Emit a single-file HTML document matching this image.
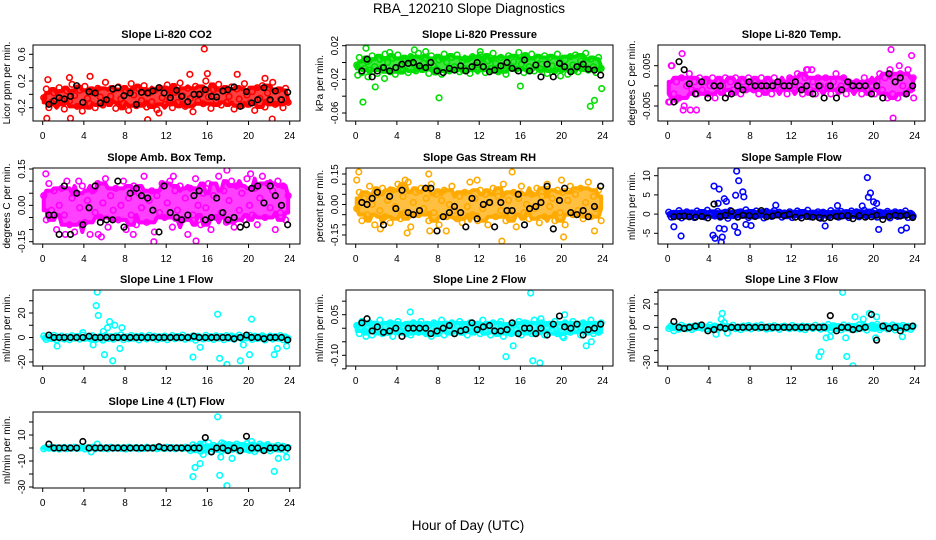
<!DOCTYPE html>
<html><head><meta charset="utf-8">
<style>
html,body{margin:0;padding:0;background:#fff;}
svg{display:block;font-family:"Liberation Sans",sans-serif;}
</style></head>
<body>
<svg id="chart" width="936" height="540" viewBox="0 0 936 540" xmlns="http://www.w3.org/2000/svg">
<rect width="936" height="540" fill="#fff"/>
<text x="469" y="13" font-size="13.5" text-anchor="middle">RBA_120210  Slope Diagnostics</text>
<text x="468" y="530" font-size="13.5" text-anchor="middle">Hour of Day (UTC)</text>
</svg>
<script>
// ---------- shared hours ----------
const cloudHours = [0.1,0.35,0.6,0.85,1.1,1.35,1.6,1.85,2.1,2.35,2.6,2.85,3.1,3.35,3.6,3.85,4.1,4.35,4.6,4.85,5.1,5.35,5.6,5.85,
6.1,6.35,6.6,6.85,7.1,7.35,7.6,7.85,8.1,8.35,8.6,8.85,9.1,9.35,9.6,9.85,10.1,10.35,10.6,10.85,11.1,11.35,11.6,11.85,
12.1,12.35,12.6,12.85,13.1,13.35,13.6,13.85,14.1,14.35,14.6,14.85,15.1,15.35,15.6,15.85,16.1,16.35,16.6,16.85,17.1,17.35,17.6,17.85,
18.1,18.35,18.6,18.85,19.1,19.35,19.6,19.85,20.1,20.35,20.6,20.85,21.1,21.35,21.6,21.85,22.1,22.35,22.6,22.85,23.1,23.35,23.6,23.85];
const blackHours = [0.6,1.1,1.6,2.1,2.7,3.3,3.9,4.5,5.1,5.6,6.2,6.8,7.3,7.9,8.5,9.1,9.6,10.2,10.7,11.3,11.8,12.4,13.0,13.5,14.1,14.7,15.2,15.8,16.4,16.9,17.5,18.0,18.6,19.2,19.8,20.3,20.9,21.5,22.1,22.6,23.2,23.8];
const xTicks = [0,4,8,12,16,20,24];

// ---------- CO2 ----------
const co2Cloud = [-0.05,0.08,-0.2,-0.12,0.02,-0.15,0.1,-0.08,-0.22,0.05,-0.1,0.15,-0.02,-0.18,0.06,-0.25,0.12,-0.06,-0.14,0.03,-0.2,0.09,-0.04,-0.16,
0.18,-0.1,-0.03,0.07,-0.21,0.11,-0.07,-0.13,0.04,-0.24,0.16,-0.01,-0.17,0.08,-0.09,0.13,-0.19,0.02,-0.11,0.06,-0.23,0.1,-0.05,-0.15,
0.14,-0.08,-0.2,0.03,-0.12,0.17,-0.02,-0.18,0.09,-0.06,-0.26,0.12,-0.1,0.01,-0.14,0.2,-0.04,-0.21,0.07,-0.09,0.15,-0.16,0.05,-0.12,
-0.03,0.11,-0.22,0.08,-0.07,-0.17,0.16,-0.01,-0.13,0.04,-0.24,0.1,-0.06,0.13,-0.19,0.02,-0.1,0.18,-0.15,0.06,-0.08,-0.2,0.09,-0.12];
const co2Black = [-0.15,-0.1,-0.05,-0.07,-0.03,0.13,-0.12,0.04,0.02,-0.13,-0.08,0.08,0.1,-0.02,0.02,-0.15,0.03,0.02,0.05,0.1,0.02,-0.05,0.06,-0.03,-0.11,0.0,0.0,0.07,-0.03,-0.04,0.05,0.07,0.11,-0.18,0.04,-0.13,-0.08,0.1,-0.08,0.05,-0.08,0.03];
const co2OutH = [15.7,14.3,18.9,10.2,2.7,0.4,22.3,4.6,11.3,2.6,16.0,21.6,0.5];
const co2OutV = [0.68,0.3,0.3,-0.38,-0.36,-0.36,-0.37,0.27,-0.28,0.25,0.31,0.24,0.22];
const co2Ticks = [-0.2,0,0.2,0.4,0.6];
const co2Labels = ["-0.2","","0.2","","0.6"];

// ---------- Pressure ----------
const presCloud = [-0.003,0.006,-0.012,-0.007,0.001,-0.009,0.008,-0.005,-0.013,0.004,-0.006,0.01,0.0,-0.011,0.005,-0.014,0.009,-0.004,-0.008,0.002,-0.012,0.007,-0.002,-0.01,
0.011,-0.006,-0.001,0.005,-0.013,0.008,-0.004,-0.008,0.003,-0.014,0.01,0.0,-0.01,0.006,-0.005,0.009,-0.011,0.002,-0.007,0.004,-0.013,0.007,-0.003,-0.009,
0.009,-0.005,-0.012,0.002,-0.007,0.011,-0.001,-0.011,0.006,-0.004,-0.014,0.008,-0.006,0.001,-0.008,0.012,-0.002,-0.012,0.005,-0.005,0.01,-0.01,0.004,-0.007,
-0.002,0.008,-0.013,0.006,-0.004,-0.01,0.01,0.0,-0.008,0.003,-0.014,0.007,-0.003,0.009,-0.011,0.002,-0.006,0.011,-0.009,0.004,-0.005,-0.012,0.006,-0.007];
const presBlack = [-0.01,0.004,-0.017,-0.01,-0.006,-0.01,-0.006,-0.002,-0.001,0.0,-0.004,-0.006,0.0,-0.01,-0.012,-0.007,-0.009,-0.004,-0.01,-0.005,0.0,-0.005,-0.011,-0.009,-0.004,0.0,-0.007,-0.01,0.003,-0.01,-0.003,-0.017,-0.002,-0.017,-0.001,-0.005,-0.011,-0.005,-0.002,-0.008,-0.009,-0.015];
const presOutH = [0.2,0.7,1.2,1.4,1.9,2.8,8.1,16.0,22.8,23.2,23.9,1.0,5.7,3.3,12.1,6.8,19.9];
const presOutV = [-0.015,-0.047,-0.017,-0.075,-0.029,-0.019,-0.042,-0.028,-0.052,-0.045,-0.031,0.017,0.015,0.012,0.013,0.013,-0.016];
const presTicks = [-0.06,-0.04,-0.02,0,0.02];
const presLabels = ["-0.06","","-0.02","","0.02"];

// ---------- Li-820 Temp ----------
const tempCloud = [-0.004,0.005,-0.002,0.001,-0.003,0.002,-0.005,0.0,0.003,-0.001,0.001,-0.002,
0.002,-0.001,0.001,-0.002,0.0,0.002,-0.003,0.001,-0.001,0.0,0.002,-0.002,
0.001,-0.001,0.002,0.0,-0.002,0.001,-0.001,0.002,0.0,-0.001,0.001,-0.002,
0.002,0.0,-0.001,0.001,-0.002,0.002,0.0,-0.001,0.001,0.0,-0.002,0.002,
0.001,-0.001,0.003,0.0,-0.002,0.002,0.004,-0.001,0.001,-0.002,0.002,0.0,
-0.001,0.002,0.0,-0.002,0.001,0.003,-0.001,0.0,0.002,-0.002,0.001,0.0,
-0.001,0.001,0.0,-0.002,0.002,-0.001,0.001,0.0,-0.002,0.001,0.003,-0.001,
0.002,-0.003,0.004,-0.002,0.001,-0.003,0.003,0.0,-0.002,0.004,-0.001,0.002];
const tempBlack = [-0.004,0.006,0.004,0.0005,-0.002,0.001,-0.003,0.0,0.0,-0.003,-0.002,0.0,-0.001,0.001,0.0,0.0,0.0,0.0,0.001,0.0,0.0,0.001,-0.001,0.0,-0.002,0.0,-0.003,0.0,-0.003,-0.001,0.001,0.0,0.0,0.0,-0.002,0.0,-0.003,0.003,0.001,0.002,-0.002,0.0];
const tempOutH = [0.4,1.4,1.5,2.2,2.8,21.7,21.9,21.8,23.7,22.5,23.9,0.2,13.5,14.0];
const tempOutV = [0.005,0.008,-0.006,-0.006,-0.006,0.009,-0.008,0.011,0.0075,0.005,-0.003,-0.004,0.004,0.004];
const tempTicks = [-0.005,0,0.005];
const tempLabels = ["-0.005","","0.005"];

// ---------- Amb Box Temp ----------
const ambCloud = [0.04,-0.06,0.09,-0.02,0.06,-0.1,0.0,0.07,-0.04,0.1,-0.08,0.03,-0.11,0.05,-0.01,0.08,-0.07,0.02,-0.12,0.06,-0.03,0.09,-0.05,0.01,
0.11,-0.09,0.04,-0.02,0.07,-0.06,0.0,0.1,-0.1,0.03,-0.04,0.08,-0.08,0.05,-0.01,0.12,-0.07,0.02,0.06,-0.11,0.04,-0.03,0.09,-0.05,
0.01,0.1,-0.09,0.06,-0.02,0.08,-0.06,0.03,-0.12,0.07,-0.04,0.11,0.0,-0.08,0.05,-0.01,0.09,-0.1,0.04,-0.05,0.12,-0.03,0.06,-0.07,
0.02,0.1,-0.09,0.08,-0.02,0.05,-0.06,0.11,0.0,-0.04,0.07,-0.08,0.03,0.12,-0.05,0.09,-0.01,0.06,-0.1,0.1,-0.03,0.08,-0.06,0.04];
const ambBlack = [-0.04,-0.04,-0.12,0.08,-0.12,0.05,-0.08,-0.01,0.08,-0.07,-0.06,-0.06,0.1,-0.09,0.05,0.07,0.04,0.03,-0.02,-0.11,0.08,-0.03,-0.05,-0.06,-0.04,0.04,0.06,-0.06,-0.05,0.03,-0.03,-0.06,-0.05,-0.09,-0.08,0.07,0.08,0.01,0.08,0.04,0.0,-0.08];
const ambOutH = [0.3,10.8,14.9,17.9,20.2,5.4,5.7,8.8,2.2,12.7,3.5];
const ambOutV = [0.13,-0.15,-0.147,0.145,0.13,-0.12,-0.13,-0.12,-0.12,0.12,0.1];
const ambTicks = [-0.15,-0.1,-0.05,0,0.05,0.1,0.15];
const ambLabels = ["-0.15","","","0.00","","","0.15"];

// ---------- Gas Stream RH ----------
const rhCloud = [-0.02,0.06,-0.08,0.03,-0.05,0.09,0.0,-0.1,0.05,-0.03,0.08,-0.06,0.02,-0.09,0.07,-0.01,0.1,-0.07,0.04,-0.04,0.11,-0.11,0.01,0.06,
-0.05,0.08,-0.02,0.03,-0.08,0.1,-0.04,0.05,-0.1,0.02,0.07,-0.06,0.0,0.09,-0.03,-0.07,0.04,-0.09,0.06,-0.01,0.11,-0.05,0.03,-0.08,
0.07,-0.02,0.05,-0.1,0.01,0.08,-0.06,0.04,-0.03,0.1,-0.08,0.02,-0.05,0.06,-0.11,0.03,0.09,-0.04,0.0,-0.07,0.05,-0.02,0.08,-0.09,
0.04,-0.06,0.1,-0.01,0.03,-0.08,0.07,-0.04,0.06,-0.1,0.02,0.09,-0.05,0.05,-0.03,0.08,-0.07,0.01,0.11,-0.06,0.04,-0.02,0.07,-0.08];
const rhBlack = [0.01,0.0,0.03,0.06,-0.1,0.04,-0.02,0.07,-0.04,-0.05,-0.03,0.08,0.08,-0.13,-0.06,-0.04,-0.01,-0.04,-0.11,0.03,-0.07,0.0,0.01,-0.11,0.01,-0.03,-0.03,0.05,-0.1,-0.02,-0.01,0.01,0.09,-0.12,0.02,0.08,-0.04,-0.05,-0.03,-0.06,-0.01,0.09];
const rhOutH = [0.3,0.1,15.2,14.2,7.2,20.2,23.2,2.4,5.0,7.1,20.0,8.8,4.8,11.8];
const rhOutV = [0.16,0.12,0.16,-0.18,-0.13,-0.16,-0.13,-0.12,-0.14,0.15,0.12,-0.13,0.12,0.12];
const rhTicks = [-0.15,-0.1,-0.05,0,0.05,0.1,0.15];
const rhLabels = ["-0.15","","","0.00","","","0.15"];

// ---------- Sample Flow ----------
const sampCloud = [0.5,-0.8,0.2,-0.4,0.9,-1.0,0.1,0.6,-0.6,0.3,-0.9,0.8,-0.2,0.4,-0.7,1.0,-0.3,0.2,-0.5,0.7,-0.8,0.0,0.5,-1.1,
0.9,-0.4,0.3,-0.7,0.6,-0.1,1.1,-0.9,0.2,-0.5,0.8,-0.3,0.4,-1.0,0.7,0.0,-0.6,0.9,-0.2,0.5,-0.8,0.3,-0.4,0.6,
-0.9,0.1,0.8,-0.5,0.4,-0.2,1.0,-0.7,0.2,-0.3,0.6,-1.1,0.5,0.0,-0.6,0.9,-0.4,0.3,-0.8,0.7,-0.1,0.4,-0.9,0.8,
-0.3,0.6,-0.7,0.2,1.0,-0.5,0.1,-0.2,0.9,-0.8,0.5,-0.4,0.3,0.7,-1.0,0.0,0.6,-0.6,0.4,-0.3,0.8,-0.9,0.2,-0.5];
const sampBlack = [-0.7,-0.6,-0.5,-0.7,-0.8,-0.6,-1.0,2.6,-0.6,-0.3,0.7,-0.8,-0.3,-0.4,-0.6,0.9,-0.7,-0.5,-0.2,-0.4,0.0,-0.8,-1.0,-0.6,-0.8,-0.9,-1.1,-0.9,-0.6,-0.5,-0.4,-1.2,-0.4,-0.8,-0.7,-0.3,-1.4,-0.6,-0.3,-0.5,-0.3,-0.9];
const sampOutH = [4.5,5.0,6.7,6.9,7.3,7.4,6.6,5.5,5.7,4.4,4.6,5.3,5.2,5.0,5.5,6.5,6.8,7.6,8.1,1.3,0.6,19.4,19.7,19.5,20.0,20.3,20.5,22.7,23.2,15.3,16.5,10.5,18.9,4.9];
const sampOutV = [7.3,6.5,11.2,8.7,5.8,4.5,4.9,4.0,3.3,-5.5,-6.3,-6.0,-7.3,-3.7,-3.9,-3.2,-4.8,-2.7,-3.0,-5.7,-3.3,9.5,5.5,4.4,3.2,2.8,-4.0,-4.2,-3.6,-3.1,2.2,2.3,2.1,2.8];
const sampTicks = [-5,0,5,10];
const sampLabels = ["-5","0","5","10"];

// ---------- Line 1 Flow ----------
const l1Cloud = [1.2,-1.6,0.4,-0.9,1.8,-2.0,0.3,1.1,-1.3,0.6,-1.8,1.5,-0.5,0.8,-1.4,2.0,-0.7,0.5,-1.0,1.4,-1.7,0.0,1.0,-2.2,
1.7,-0.8,0.6,-1.4,1.2,-0.3,2.2,-1.8,0.4,-1.0,1.6,-0.6,0.9,-2.0,1.4,0.1,-1.2,1.8,-0.4,1.0,-1.6,0.6,-0.8,1.2,
-1.8,0.2,1.6,-1.0,0.8,-0.4,2.0,-1.4,0.4,-0.6,1.2,-2.2,1.0,0.0,-1.2,1.8,-0.8,0.6,-1.6,1.4,-0.2,0.8,-1.8,1.6,
-0.6,1.2,-1.4,0.4,2.0,-1.0,0.2,-0.4,1.8,-1.6,1.0,-0.8,0.6,1.4,-2.0,0.0,1.2,-1.2,0.8,-0.6,1.6,-1.8,0.4,-1.0];
const l1Black = [2,0,0,0,0,0,0,1,0,0,0,0,0,0,0,0,0,0,0,0,0,0,0,0,0,1,0,0,0,0,0,0,-1,0,2,0,0,-1,0,0,0,-2];
const l1OutH = [5.3,5.2,5.4,6.0,6.8,7.5,6.5,7.0,7.7,1.4,14.6,15.3,17.0,17.2,17.9,19.2,20.1,20.3,22.5,22.8,23.7,4.9,3.9,19.5,6.3,5.9];
const l1OutV = [37,26,18,-14,-19,-9,13,10,8,-7,-16,-8,19,-17,-22,-19,-14,15,-14,-9,-7,-6,4,-6,8,5];
const l1Ticks = [-20,-10,0,10,20,30];
const l1Labels = ["-20","","0","","20",""];

// ---------- Line 2 Flow ----------
const l2Cloud = [0.01,-0.02,0.025,-0.01,0.0,0.02,-0.025,0.015,-0.005,0.03,-0.02,0.005,-0.015,0.02,-0.03,0.01,0.025,-0.01,0.0,-0.02,0.015,-0.025,0.02,-0.005,
-0.015,0.025,0.005,-0.02,0.01,-0.03,0.02,0.0,-0.01,0.03,-0.025,0.015,-0.005,0.02,-0.02,0.01,0.025,-0.015,0.005,-0.025,0.02,-0.01,0.0,0.015,
-0.02,0.03,-0.01,0.01,-0.025,0.02,0.005,-0.015,0.025,-0.03,0.01,0.0,-0.02,0.015,-0.005,0.025,-0.025,0.02,-0.01,0.005,-0.02,0.03,-0.015,0.01,
0.02,-0.025,0.0,0.015,-0.01,0.025,-0.02,0.005,-0.03,0.02,0.01,-0.015,0.025,-0.005,0.015,-0.025,0.02,0.0,-0.01,0.03,-0.02,0.01,-0.015,0.02];
const l2Black = [0.02,0.035,-0.01,0.005,-0.015,-0.01,0.0,-0.03,0.0,0.0,0.0,0.0,-0.02,-0.01,0.0,0.01,-0.02,-0.01,-0.005,0.02,-0.005,0.005,0.01,-0.01,-0.01,-0.005,0.02,-0.02,0.0,0.0,-0.02,0.0,-0.025,0.015,0.045,0.005,0.0,0.015,-0.025,-0.005,0.0,0.015];
const l2OutH = [5.3,17.0,14.6,15.3,17.2,17.9,22.4,20.3,22.9,1.0,20.2,18.0];
const l2OutV = [0.06,0.13,-0.105,-0.065,-0.12,-0.128,-0.065,0.05,-0.05,-0.03,-0.035,0.035];
const l2Ticks = [-0.15,-0.1,-0.05,0,0.05,0.1];
const l2Labels = ["","-0.10","","","0.05",""];

// ---------- Line 3 Flow ----------
const l3Cloud = [-1.0,1.4,-0.4,0.8,-1.6,1.8,0.2,-1.2,0.6,-2.0,1.2,-0.2,1.6,-0.8,0.4,-1.4,2.0,-0.6,1.0,-1.8,0.0,1.4,-1.0,0.6,
-0.4,1.8,-1.2,0.2,-2.0,1.0,-0.6,1.6,-1.4,0.4,1.2,-0.8,2.0,-0.2,-1.6,0.8,-1.0,1.4,0.0,-1.8,0.6,1.0,-0.4,-1.2,
1.6,-0.6,0.4,-1.4,1.2,-2.0,0.8,0.2,-1.0,1.8,-0.2,-1.6,1.0,-0.8,2.4,-2.6,1.4,-1.2,0.6,-2.2,2.0,-0.4,1.2,-1.8,
0.8,-1.6,2.2,-0.6,1.4,-2.4,0.4,1.8,-1.0,2.6,-2.0,0.2,1.6,-1.4,0.6,2.0,-2.2,1.0,-0.4,1.6,-1.2,0.8,-1.8,1.2];
const l3Black = [5,0,-1,0,1,2,-3,-2,0,-1,0,0,0,0,0,0,0,0,0,0,0,0,0,0,0,0,0,10,-3,0,0,-2,-1,0,11,-11,1,-1,0,-3,0,1];
const l3OutH = [5.3,5.2,5.5,4.7,5.8,17.0,14.7,14.9,17.3,17.4,18.0,18.2,19.6,20.2,20.3,22.8,15.4,15.8,0.6,19.0];
const l3OutV = [12,7,4,-6,-5,30,-25,-21,-9,-25,-33,9,12,-9,9,-8,-9,-8,-3,7];
const l3Ticks = [-30,-20,-10,0,10,20,30];
const l3Labels = ["-30","","","0","","20",""];

// ---------- Line 4 Flow ----------
const l4Cloud = [-0.6,0.4,-0.2,0.6,-0.4,0.2,-0.8,0.0,0.4,-0.6,0.2,-0.2,0.6,-0.4,0.0,0.4,-0.8,0.2,-0.2,0.6,-0.6,0.0,0.4,-0.4,
0.2,-0.6,0.6,-0.2,0.0,0.4,-0.4,0.2,-0.8,0.6,-0.2,0.0,0.4,-0.6,0.2,-0.4,0.6,0.0,-0.2,0.4,-0.6,0.2,0.0,-0.4,
0.6,-0.2,0.4,-0.6,0.0,0.2,-0.4,0.6,-0.2,-2.0,2.4,-1.4,1.2,-2.6,3.0,-1.0,0.8,-3.0,2.0,-0.6,1.6,-2.2,3.2,-1.6,
2.6,-1.2,0.4,3.0,-2.4,1.8,-0.8,3.4,-1.8,2.2,-2.8,0.6,3.0,-1.4,1.2,2.6,-2.2,0.8,-0.6,2.0,-1.0,1.4,-2.0,0.4];
const l4Black = [3,0,0,0,0,0,5,0,0,0,0,0,0,0,0,0,0,0,0,1,0,0,0,0,0,0,0,8,-3,0,0,-2,0,-2,9,0,0,-2,0,0,0,0];
const l4OutH = [17.0,14.6,14.8,15.3,17.2,17.9,17.3,18.4,22.5,22.9,23.7,17.4,16.1,20.3,15.3,5.3,4.7,15.6];
const l4OutV = [24,-22,-15,-12,-21,-29,-7,-8,-18,-8,-7,4,4,5,3,3,-3,-5];
const l4Ticks = [-30,-20,-10,0,10,20];
const l4Labels = ["-30","","-10","","10",""];

// ---------- drawing ----------
const NS = "http://www.w3.org/2000/svg";
const svg = document.getElementById("chart");
const BOXW = 267, BOXH = 76;

function mk(tag, attrs, parent){
  const e = document.createElementNS(NS, tag);
  for (const k in attrs) e.setAttribute(k, attrs[k]);
  (parent || svg).appendChild(e);
  return e;
}

function drawPanel(p){
  const g = mk("g", {});
  
  
  const L = p.left, T = p.top;
  const xs = h => L + 9.7 + h * (247 / 24);
  const k = (p.y2 - p.y1) / (p.v2 - p.v1);
  const ys = v => p.y1 + (v - p.v1) * k;

  const clipId = "clip-" + p.name;
  const cp = mk("clipPath", {id: clipId}, g);
  mk("rect", {x: L, y: T, width: BOXW, height: BOXH}, cp);

  const t = mk("text", {x: L + BOXW/2, y: T - 7, "font-size": 11, "font-weight": "bold", "text-anchor": "middle"}, g);
  t.textContent = p.title;
  
  

  const yl = mk("text", {x: 0, y: 0, "font-size": 10, "text-anchor": "middle",
    transform: "translate(" + (L - 23) + "," + (T + BOXH/2) + ") rotate(-90)"}, g);
  yl.textContent = p.ylab;
  
  

  const pg = mk("g", {"clip-path": "url(#" + clipId + ")", fill: "none", "stroke-width": 1.6}, g);
  
  

  // dense-cloud envelope derived from the cloud values (rolling 2nd min / 2nd max)
  const top = [], bot = [];
  const n = p.cloud.length;
  for (let i = 0; i < n; i++){
    const w = p.cloud.slice(Math.max(0, i - 3), Math.min(n, i + 4)).slice().sort((a, b) => a - b);
    const lo = w[1], hi = w[w.length - 2];
    top.push(xs(cloudHours[i]) + "," + ys(hi));
    bot.unshift(xs(cloudHours[i]) + "," + ys(lo));
  }
  const band = mk("polygon", {points: top.concat(bot).join(" "), fill: p.color, "fill-opacity": 0.75, stroke: p.color, "stroke-width": 4, "stroke-linejoin": "round"}, pg);
  
  

  for (let i = 0; i < p.cloud.length; i++){
    const c = mk("circle", {cx: xs(cloudHours[i]), cy: ys(p.cloud[i]), r: 2.8, stroke: p.color}, pg);
    
    
  }
  for (let i = 0; i < p.outH.length; i++){
    const c = mk("circle", {cx: xs(p.outH[i]), cy: ys(p.outV[i]), r: 2.8, stroke: p.color}, pg);
    
    
  }
  for (let i = 0; i < p.black.length; i++){
    const c = mk("circle", {cx: xs(blackHours[i]), cy: ys(p.black[i]), r: 2.8, stroke: "#000"}, pg);
    
    
  }

  const b = mk("rect", {x: L, y: T, width: BOXW, height: BOXH, fill: "none", stroke: "#000", "stroke-width": 1}, g);
  
  

  const xa = mk("g", {stroke: "#000", "stroke-width": 1}, g);
  
  
  mk("line", {x1: xs(xTicks[0]), x2: xs(xTicks[xTicks.length-1]), y1: T + BOXH, y2: T + BOXH}, xa);
  xTicks.forEach(v => {
    mk("line", {x1: xs(v), x2: xs(v), y1: T + BOXH, y2: T + BOXH + 4}, xa);
    const tl = mk("text", {x: xs(v), y: T + BOXH + 18, "font-size": 10, "text-anchor": "middle", stroke: "none"}, xa);
    tl.textContent = v;
    
    
  });

  const ya = mk("g", {stroke: "#000", "stroke-width": 1}, g);
  
  
  const tk = p.ticks;
  mk("line", {x1: L, x2: L, y1: ys(tk[0]), y2: ys(tk[tk.length-1])}, ya);
  tk.forEach((v, i) => {
    mk("line", {x1: L - 4, x2: L, y1: ys(v), y2: ys(v)}, ya);
    if (p.labels[i]){
      const tl = mk("text", {x: 0, y: 0, "font-size": 10, "text-anchor": "middle", stroke: "none",
        transform: "translate(" + (L - 8) + "," + ys(v) + ") rotate(-90)"}, ya);
      tl.textContent = p.labels[i];
      
      
    }
  });
}

const C1 = 33, C2 = 346, C3 = 658;
const R1 = 45, R2 = 168, R3 = 290, R4 = 412;

drawPanel({name:"co2", title:"Slope Li-820 CO2", ylab:"Licor ppm per min.", left:C1, top:R1, color:"#ff0000",
  cloud:co2Cloud, black:co2Black, outH:co2OutH, outV:co2OutV, ticks:co2Ticks, labels:co2Labels, v1:0.6, y1:54.3, v2:-0.2, y2:107.7});
drawPanel({name:"pressure", title:"Slope Li-820 Pressure", ylab:"kPa per min.", left:C2, top:R1, color:"#00dd00",
  cloud:presCloud, black:presBlack, outH:presOutH, outV:presOutV, ticks:presTicks, labels:presLabels, v1:0.02, y1:45.7, v2:-0.06, y2:113});
drawPanel({name:"licor-temp", title:"Slope Li-820 Temp.", ylab:"degrees C per min.", left:C3, top:R1, color:"#ff00ff",
  cloud:tempCloud, black:tempBlack, outH:tempOutH, outV:tempOutV, ticks:tempTicks, labels:tempLabels, v1:0.005, y1:65.7, v2:-0.005, y2:106});
drawPanel({name:"amb-box-temp", title:"Slope Amb. Box Temp.", ylab:"degrees C per min.", left:C1, top:R2, color:"#ff00ff",
  cloud:ambCloud, black:ambBlack, outH:ambOutH, outV:ambOutV, ticks:ambTicks, labels:ambLabels, v1:0.15, y1:169, v2:-0.15, y2:241.7});
drawPanel({name:"gas-stream-rh", title:"Slope Gas Stream RH", ylab:"percent per min.", left:C2, top:R2, color:"#ffaa00",
  cloud:rhCloud, black:rhBlack, outH:rhOutH, outV:rhOutV, ticks:rhTicks, labels:rhLabels, v1:0.15, y1:174, v2:-0.15, y2:235});
drawPanel({name:"sample-flow", title:"Slope Sample Flow", ylab:"ml/min per min.", left:C3, top:R2, color:"#0000ff",
  cloud:sampCloud, black:sampBlack, outH:sampOutH, outV:sampOutV, ticks:sampTicks, labels:sampLabels, v1:10, y1:175.7, v2:-5, y2:233.3});
drawPanel({name:"line1-flow", title:"Slope Line 1 Flow", ylab:"ml/min per min.", left:C1, top:R3, color:"#00ffff",
  cloud:l1Cloud, black:l1Black, outH:l1OutH, outV:l1OutV, ticks:l1Ticks, labels:l1Labels, v1:20, y1:313, v2:-20, y2:362});
drawPanel({name:"line2-flow", title:"Slope Line 2 Flow", ylab:"ml/min per min.", left:C2, top:R3, color:"#00ffff",
  cloud:l2Cloud, black:l2Black, outH:l2OutH, outV:l2OutV, ticks:l2Ticks, labels:l2Labels, v1:0.05, y1:314.7, v2:-0.10, y2:355.3});
drawPanel({name:"line3-flow", title:"Slope Line 3 Flow", ylab:"ml/min per min.", left:C3, top:R3, color:"#00ffff",
  cloud:l3Cloud, black:l3Black, outH:l3OutH, outV:l3OutV, ticks:l3Ticks, labels:l3Labels, v1:20, y1:304, v2:-30, y2:362.3});
drawPanel({name:"line4-flow", title:"Slope Line 4 (LT) Flow", ylab:"ml/min per min.", left:C1, top:R4, color:"#00ffff",
  cloud:l4Cloud, black:l4Black, outH:l4OutH, outV:l4OutV, ticks:l4Ticks, labels:l4Labels, v1:10, y1:435, v2:-30, y2:487});
</script>
</body></html>
